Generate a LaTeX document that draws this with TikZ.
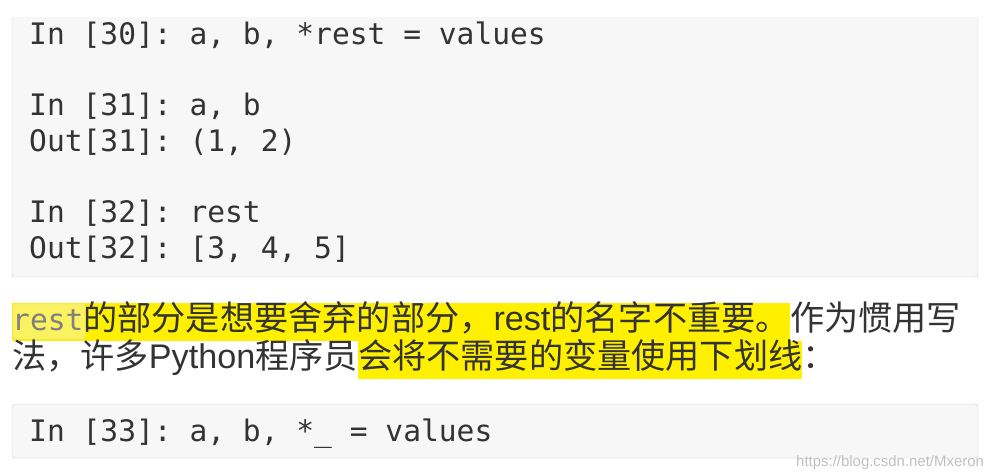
\documentclass[tikz,border=0pt]{standalone}
\usepackage{fontspec}
\setmainfont{Liberation Sans}
\setmonofont{DejaVu Sans Mono}
\newfontfamily\cjk{Noto Sans CJK SC}
\usetikzlibrary{positioning}
\definecolor{codebg}{HTML}{F7F7F7}
\definecolor{codeline}{HTML}{CCCCCC}
\definecolor{txt}{HTML}{333333}
\definecolor{mark}{HTML}{FFF000}
\begin{document}
\begin{tikzpicture}[x=1bp, y=-1bp, node distance=0pt,
        codeln/.style={anchor=base west, inner sep=0pt, text=txt, font=\ttfamily\fontsize{29.7}{30}\selectfont},
        para/.style={inner sep=0pt, text=txt, text height=28bp, text depth=10bp, font=\cjk\fontsize{34.3}{36}\selectfont},
        hilite/.style={para, fill=mark}
    ]
    \useasboundingbox (0,0) rectangle (1002,475);
    % Top code box
    \fill[codebg] (12,17) rectangle (978,277);
    \draw[codeline, rounded corners=3pt] (12,17) -- (12,277) -- (978,277) -- (978,17);
    \node[codeln] (in30) at (29,45) {In [30]: a, b, *rest = values};
    \node[codeln] (in31) at (29,116) {In [31]: a, b};
    \node[codeln] (out31) at (29,152) {Out[31]: (1, 2)};
    \node[codeln] (in32) at (29,223) {In [32]: rest};
    \node[codeln] (out32) at (29,259) {Out[32]: [3, 4, 5]};
    % Paragraph
    \node[hilite, anchor=base west] (p1a) at (12,331) {{\ttfamily\fontsize{29.7}{30}\selectfont rest}的部分是想要舍弃的部分，{\rmfamily rest}的名字不重要。};
    \node[para, anchor=base west] (p1b) at (p1a.base east) {作为惯用写};
    \node[para, anchor=base west] (p2a) at (12,369) {法，许多{\rmfamily Python}程序员};
    \node[hilite, anchor=base west] (p2b) at (p2a.base east) {会将不需要的变量使用下划线};
    \node[para, anchor=base west] (p2c) at (p2b.base east) {：};
    \draw[black!15, fill=black!4, fill opacity=0.4, rounded corners=2pt] (13,304) rectangle (85,339);
    % Bottom code box
    \draw[codeline, fill=codebg, rounded corners=3pt] (12,404) rectangle (978,458);
    \node[codeln] (in33) at (29,441) {In [33]: a, b, *\_ = values};
    % Watermark
    \node[anchor=base west, inner sep=0pt, text=black!25, font=\fontsize{15}{15}\selectfont] (wm) at (796,466) {https://blog.csdn.net/Mxeron};
\end{tikzpicture}
\end{document}
